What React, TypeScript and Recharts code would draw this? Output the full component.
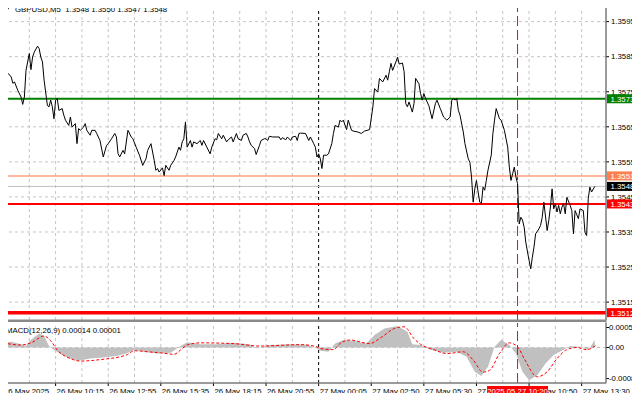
import { ComposedChart, Line, Area, XAxis, YAxis, ReferenceLine } from 'recharts';

const FONT = "'Liberation Sans', Arial, sans-serif";
const FS = 7.8;

// 5-minute bar index counted from the first bar on 26 May, and its close
const priceBars = [
  0, 2, 3, 5, 6, 7, 9, 11, 12, 13, 14, 16, 17, 18, 19, 21, 22, 23, 24, 25, 27, 28, 29, 30, 31, 32, 33, 34, 36, 37,
  38, 40, 41, 42, 44, 45, 46, 47, 49, 50, 51, 53, 54, 56, 57, 59, 61, 63, 64, 66, 68, 69, 70, 71, 73, 74, 76, 78, 79, 81,
  83, 85, 87, 88, 90, 92, 93, 94, 95, 97, 98, 99, 101, 102, 104, 105, 107, 108, 109, 110, 111, 112, 114, 115, 116, 118, 120, 121, 122, 124,
  126, 127, 129, 130, 131, 133, 134, 136, 137, 139, 140, 142, 143, 145, 146, 148, 149, 150, 151, 153, 154, 156, 157, 159, 160, 161, 162, 164, 166, 168,
  169, 170, 172, 173, 175, 176, 178, 179, 180, 181, 184, 186, 187, 189, 190, 191, 192, 193, 194, 195, 197, 198, 200, 201, 202, 204, 205, 206, 207, 209,
  210, 212, 213, 216, 218, 220, 223, 225, 226, 228, 229, 231, 233, 234, 235, 236, 237, 239, 240, 241, 243, 244, 245, 246, 247, 249, 250, 251, 253, 254,
  255, 256, 257, 259, 261, 263, 264, 266, 268, 270, 272, 273, 274, 275, 276, 277, 278, 280, 281, 283, 284, 285, 286, 287, 288, 289, 290, 291, 292, 293,
  294, 295, 297, 298, 299, 300, 302, 303, 305, 307, 308, 309, 310, 311, 312, 313, 314, 315, 316, 317, 318, 320, 321, 322, 323, 324, 326, 327, 328, 329,
  331, 332, 333, 334, 335, 336, 337, 338, 339, 340, 341, 342, 343, 345, 346, 347, 348, 350, 351, 353, 354, 355, 356, 357, 358, 360,
];
const priceCloses = [
  1.35735, 1.35807, 1.35803, 1.35792, 1.35774, 1.35778, 1.35754, 1.35735, 1.35714, 1.35735, 1.35811, 1.35859, 1.35813, 1.35849, 1.35863, 1.3588, 1.35873, 1.35849, 1.35835, 1.35783,
  1.35711, 1.35707, 1.35726, 1.35707, 1.35673, 1.35726, 1.35731, 1.35697, 1.35702, 1.35683, 1.35669, 1.35654, 1.35678, 1.35649, 1.35659, 1.35602, 1.35645, 1.3564, 1.35649, 1.35659,
  1.3564, 1.35626, 1.3564, 1.3564, 1.35631, 1.35611, 1.35564, 1.35597, 1.35602, 1.35616, 1.35631, 1.35621, 1.35573, 1.35564, 1.35583, 1.35573, 1.3564, 1.35621, 1.35616, 1.35592,
  1.35569, 1.3554, 1.35559, 1.35583, 1.35602, 1.35554, 1.35526, 1.35531, 1.35521, 1.35533, 1.35511, 1.3554, 1.35526, 1.3554, 1.35554, 1.35564, 1.35592, 1.35583, 1.35607, 1.35616,
  1.35664, 1.35592, 1.35611, 1.35592, 1.35607, 1.35602, 1.35611, 1.35597, 1.35611, 1.35592, 1.35573, 1.35592, 1.35616, 1.35613, 1.35631, 1.35616, 1.35626, 1.35607, 1.35613, 1.35621,
  1.35607, 1.35631, 1.35616, 1.35611, 1.35626, 1.35631, 1.35621, 1.35607, 1.35597, 1.35588, 1.35571, 1.35597, 1.35611, 1.35616, 1.35616, 1.35611, 1.35623, 1.35621, 1.35621, 1.35621,
  1.35613, 1.35619, 1.35613, 1.35621, 1.35611, 1.35621, 1.35623, 1.35611, 1.35631, 1.35632, 1.35631, 1.35611, 1.35621, 1.35602, 1.35592, 1.35564, 1.35573, 1.35559, 1.35531, 1.35569,
  1.35569, 1.35573, 1.35602, 1.35631, 1.35654, 1.35649, 1.35669, 1.35664, 1.35669, 1.35642, 1.35669, 1.3564, 1.35638, 1.35635, 1.35631, 1.35638, 1.35642, 1.35707, 1.35759, 1.35749,
  1.35788, 1.35778, 1.35797, 1.35783, 1.35807, 1.35831, 1.35811, 1.35835, 1.35849, 1.35829, 1.35832, 1.35807, 1.35716, 1.35707, 1.35721, 1.35692, 1.35716, 1.35788, 1.35773, 1.35745,
  1.35726, 1.35745, 1.35731, 1.35711, 1.35673, 1.35716, 1.35726, 1.35702, 1.35678, 1.35669, 1.35678, 1.35726, 1.35731, 1.35726, 1.35731, 1.35697, 1.35683, 1.35635, 1.35602, 1.35559,
  1.35549, 1.35507, 1.35435, 1.35473, 1.35497, 1.35464, 1.35435, 1.35431, 1.35478, 1.35469, 1.35497, 1.35526, 1.35569, 1.35631, 1.35669, 1.35702, 1.35673, 1.35669, 1.3564, 1.35592,
  1.35535, 1.35497, 1.35516, 1.35535, 1.35507, 1.35488, 1.35373, 1.35392, 1.35384, 1.35364, 1.35321, 1.35269, 1.35245, 1.35278, 1.35307, 1.35345, 1.35359, 1.35369, 1.35392, 1.35435,
  1.35354, 1.35383, 1.35421, 1.35473, 1.35416, 1.35431, 1.35407, 1.35426, 1.35402, 1.35421, 1.35431, 1.35402, 1.35449, 1.35426, 1.35411, 1.35345, 1.35411, 1.35388, 1.35416, 1.35411,
  1.35349, 1.3534, 1.35445, 1.35478, 1.35464, 1.3548,
];

// MACD(12,26,9) main (histogram) and signal
const histBars = [
  0, 5, 11, 14, 17, 22, 25, 28, 31, 36, 41, 46, 53, 61, 69, 75, 80, 86, 94, 102, 108, 112, 120, 130, 140, 150, 155, 161, 173, 185, 191,
  193, 198, 202, 207, 213, 221, 226, 232, 240, 246, 249, 254, 260, 268, 276, 282, 287, 291, 295, 299, 303, 308, 312, 316, 320, 325, 330, 335, 341, 345, 351, 356, 360,
];
const histValues = [
  0.00013, 0.00016, 0.00009, 0.00004, 0.00022, 0.00039, 0.00032, 0.00004, -0.00007, -0.00021, -0.00031, -0.00037, -0.00031, -0.00028, -0.00024, -0.00017, -0.00006, -0.00012, -0.00017, -0.00015,
  0.00004, 0.00015, 0.00009, 0.00009, 0.00013, 0.00009, -0.00003, 0.00006, 0.00009, 0.00008, -0.00003,
  -0.00009, -0.00012, 0.00011, 0.00021, 0.00019, 0.00011, 0.00035, 0.00053, 0.0006, 0.00044, 0.00009, 0.00007, -0.00006, -0.00015, -0.00012, -0.00026, -0.00068, -0.0008, -0.00054, 0.00002,
  0.00022, 0.00007, -0.00017, -0.00068, -0.00092, -0.00078, -0.00045, -0.00021, -0.00006, 0.00004, 0.00002, -0.00007, 0.00021,
];
const signalBars = [
  0, 11, 17, 25, 29, 33, 41, 47, 59, 75, 80, 88, 96, 104, 108, 112, 120, 140, 156, 181, 191,
  193, 201, 205, 211, 223, 230, 238, 244, 250, 254, 262, 270, 280, 286, 292, 296, 302, 308, 313, 317, 325, 331, 337, 343, 349, 355, 361,
];
const signalValues = [
  0.00013, 0.00007, 0.00013, 0.00032, 0.00019, -0.00007, -0.00031, -0.00038, -0.00034, -0.00021, -0.00009, -0.00012, -0.00015, -0.00019, -0.00007, 0.00007, 0.00013, 0.00011, 0.00004, 0.00008, 0.00002,
  -0.00003, -0.00006, 0.00011, 0.00021, 0.00011, 0.00028, 0.00053, 0.00058, 0.00025, 0.00009, -0.00006, -0.00017, -0.00012, -0.00035, -0.00069, -0.00064, -0.00017, 0.00013, 0.00002, -0.00031,
  -0.00082, -0.00068, -0.00031, -0.00006, 0, -0.00006, 0.00007,
];

const labelBars = [0, 32, 64, 96, 128, 160, 192, 224, 256, 288, 320, 352];
const timeLabels = [
  '26 May 2025', '26 May 10:15', '26 May 12:55', '26 May 15:35', '26 May 18:15', '26 May 20:55',
  '27 May 00:05', '27 May 02:50', '27 May 05:30', '27 May 08:10', '27 May 10:50', '27 May 13:30',
];
const gridBars = [16, 32, 48, 64, 80, 96, 112, 128, 144, 160, 176, 208, 224, 240, 256, 272, 288, 304, 320, 336, 352];
const priceTicks = [1.3515, 1.3525, 1.3535, 1.3545, 1.3555, 1.3565, 1.3575, 1.3585, 1.3595];
const macdTicks = [-0.00087, 0, 0.00056];

const daySeparatorBar = 192;
const markerBar = 313;
const markerLabel = '2025.05.27 10:20';

const resistance = 1.3573;
const upperLevel = 1.3551;
const bid = 1.3548;
const lowerLevel = 1.3543;
const support = 1.3512;

const header = 'GBPUSD,M5  1.3548 1.3550 1.3547 1.3548';
const macdTitle = 'MACD(12,26,9) 0.00014 0.00001';

const X_MAX = 366.8;
const P_MIN = 1.35099;
const P_MAX = 1.36006;
const M_MIN = -0.000994;
const M_MAX = 0.000686;

const priceData = priceBars.map((bar, i) => ({ bar, close: priceCloses[i] }));
const macdData = Array.from(new Set([...histBars, ...signalBars]))
  .sort((a, b) => a - b)
  .map((bar) => {
    const h = histBars.indexOf(bar);
    const s = signalBars.indexOf(bar);
    return {
      bar,
      hist: h >= 0 ? histValues[h] : undefined,
      signal: s >= 0 ? signalValues[s] : undefined,
    };
  });

const GRID = '#c4c4c4';

function PriceTag({ viewBox, price, fill }: any) {
  const x = viewBox.x + viewBox.width + 1;
  const y = viewBox.y;
  return (
    <g>
      <rect x={x} y={y - 4.5} width={30} height={9} fill={fill} />
      <text x={x + 3.5} y={y + 3} fill="#fff" fontSize={FS} fontFamily={FONT}>
        {price.toFixed(4)}
      </text>
    </g>
  );
}

function DateTag({ viewBox }: any) {
  const cx = viewBox.x;
  const y = viewBox.y + viewBox.height + 3;
  return (
    <g>
      <rect x={cx - 30.5} y={y} width={61} height={10} fill="#ff0000" />
      <text x={cx} y={y + 8} fill="#fff" fontSize={FS} fontFamily={FONT} textAnchor="middle">
        {markerLabel}
      </text>
    </g>
  );
}

function RightTick({ x, y, payload, fmt, dx = 0 }: any) {
  return (
    <text x={x + dx} y={y + 2.8} fontSize={FS} fontFamily={FONT} fill="#000">
      {fmt(payload.value)}
    </text>
  );
}

function TimeTick({ x, y, payload }: any) {
  const i = labelBars.indexOf(payload.value);
  return (
    <text x={x + 1} y={y + 5.5} fontSize={FS} fontFamily={FONT} fill="#000">
      {timeLabels[i]}
    </text>
  );
}

const level = (price: number, color: string, width: number) => (
  <ReferenceLine key={'l' + price} y={price} stroke={color} strokeWidth={width} />
);

const tag = (price: number, fill: string) => (
  <ReferenceLine
    key={'t' + price}
    y={price}
    stroke="none"
    label={(p: any) => <PriceTag viewBox={p.viewBox} price={price} fill={fill} />}
  />
);

export default function App() {
  return (
    <div
      style={{ position: 'relative', width: 640, height: 401, margin: -8, background: '#fff', overflow: 'hidden' }}
    >
      <div style={{ position: 'absolute', left: 0, top: 0 }}>
        <ComposedChart width={640} height={322} data={priceData} margin={{ top: 2, right: 0, left: 3, bottom: 2 }}>
          <XAxis type="number" dataKey="bar" domain={[0, X_MAX]} hide allowDataOverflow />
          <YAxis
            orientation="right"
            type="number"
            domain={[P_MIN, P_MAX]}
            allowDataOverflow
            ticks={priceTicks}
            interval={0}
            width={34}
            axisLine={{ stroke: '#707070' }}
            tickLine={{ stroke: '#000' }}
            tickSize={3}
            tick={<RightTick fmt={(v: number) => v.toFixed(4)} />}
          />
          {gridBars.map((b) => (
            <ReferenceLine key={'gx' + b} x={b} stroke={GRID} strokeDasharray="3 3" />
          ))}
          {priceTicks.map((p) => (
            <ReferenceLine key={'gy' + p} y={p} stroke={GRID} strokeDasharray="3 3" />
          ))}
          <ReferenceLine x={daySeparatorBar} stroke="#000" strokeDasharray="3 3" />
          <ReferenceLine x={markerBar} stroke="#ff0000" strokeDasharray="10 4" />
          {level(bid, '#c0c0c0', 1)}
          {level(upperLevel, '#ffa07a', 1.5)}
          {level(resistance, '#008000', 2)}
          {level(lowerLevel, '#ff0000', 2)}
          {level(support, '#ff0000', 3.5)}
          <Line
            type="linear"
            dataKey="close"
            stroke="#000"
            strokeWidth={1}
            dot={false}
            isAnimationActive={false}
          />
        </ComposedChart>
      </div>

      <div style={{ position: 'absolute', left: 0, top: 321 }}>
        <ComposedChart width={640} height={80} data={macdData} margin={{ top: 2, right: 0, left: 3, bottom: 0 }}>
          <XAxis
            type="number"
            dataKey="bar"
            domain={[0, X_MAX]}
            allowDataOverflow
            ticks={labelBars}
            interval={0}
            height={18}
            axisLine={{ stroke: '#707070' }}
            tickLine={{ stroke: '#000' }}
            tickSize={3}
            tick={<TimeTick />}
          />
          <YAxis
            orientation="right"
            type="number"
            domain={[M_MIN, M_MAX]}
            allowDataOverflow
            ticks={macdTicks}
            interval={0}
            width={34}
            axisLine={{ stroke: '#707070' }}
            tickLine={{ stroke: '#000' }}
            tickSize={3}
            tick={<RightTick dx={-2} fmt={(v: number) => (v === 0 ? '0.00' : v.toFixed(5))} />}
          />
          {[0, ...gridBars].map((b) => (
            <ReferenceLine key={'mx' + b} x={b} stroke={GRID} strokeDasharray="3 3" />
          ))}
          <ReferenceLine y={0} stroke={GRID} strokeDasharray="3 3" />
          <ReferenceLine x={daySeparatorBar} stroke="#000" strokeDasharray="3 3" />
          <Area
            type="linear"
            dataKey="hist"
            baseValue={0}
            fill="#c0c0c0"
            fillOpacity={1}
            stroke="none"
            connectNulls
            isAnimationActive={false}
          />
          <Line
            type="monotone"
            dataKey="signal"
            stroke="#ff0000"
            strokeWidth={1}
            strokeDasharray="3 2"
            dot={false}
            connectNulls
            isAnimationActive={false}
          />
          <ReferenceLine x={markerBar} stroke="#ff0000" strokeDasharray="10 4" />
        </ComposedChart>
      </div>

      {/* price tags drawn over the axis labels, same scales as the panels */}
      <div style={{ position: 'absolute', left: 0, top: 0 }}>
        <ComposedChart width={640} height={322} data={priceData} margin={{ top: 2, right: 34, left: 3, bottom: 2 }}>
          <XAxis type="number" dataKey="bar" domain={[0, X_MAX]} hide allowDataOverflow />
          <YAxis type="number" domain={[P_MIN, P_MAX]} hide allowDataOverflow />
          {tag(bid, '#000000')}
          {tag(upperLevel, '#ff7f50')}
          {tag(resistance, '#008000')}
          {tag(lowerLevel, '#ff0000')}
          {tag(support, '#ff0000')}
        </ComposedChart>
      </div>
      <div style={{ position: 'absolute', left: 0, top: 321 }}>
        <ComposedChart width={640} height={80} data={macdData} margin={{ top: 2, right: 34, left: 3, bottom: 18 }}>
          <XAxis type="number" dataKey="bar" domain={[0, X_MAX]} hide allowDataOverflow />
          <YAxis type="number" domain={[M_MIN, M_MAX]} hide allowDataOverflow />
          <ReferenceLine
            x={markerBar}
            stroke="none"
            label={(p: any) => <DateTag viewBox={p.viewBox} />}
          />
        </ComposedChart>
      </div>

      <svg
        width={640}
        height={401}
        style={{ position: 'absolute', left: 0, top: 0, pointerEvents: 'none' }}
      >
        <rect x={2.5} y={1.5} width={603.5} height={381.5} fill="none" stroke="#808080" />
        <rect x={2} y={319.5} width={604} height={2.5} fill="#8a8a8a" />
        <path d="M5.5 6 L10.5 6 L8 9.5 Z" fill="#000" />
        <text x={15} y={11.5} fontSize={FS} fontFamily={FONT} fill="#000" xmlSpace="preserve">
          {header}
        </text>
        <text x={6} y={332.5} fontSize={FS} fontFamily={FONT} fill="#000">
          {macdTitle}
        </text>
      </svg>
    </div>
  );
}
